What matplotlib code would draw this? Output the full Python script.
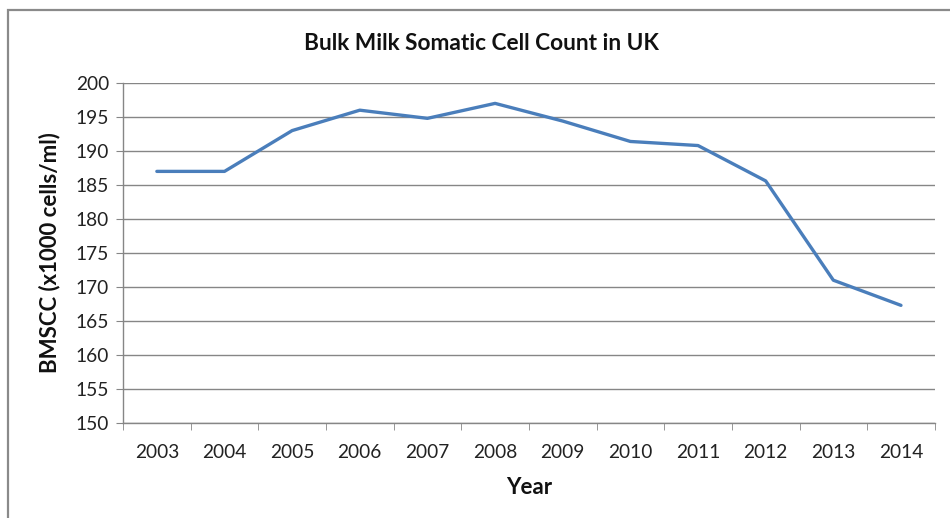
import matplotlib.pyplot as plt
import matplotlib.patches as patches
import numpy as np

years = ['2003', '2004', '2005', '2006', '2007', '2008',
         '2009', '2010', '2011', '2012', '2013', '2014']
bmscc = [187, 187, 193, 196, 194.8, 197, 194.4, 191.4, 190.8, 185.6, 171, 167.3]

plt.rcParams['font.family'] = ['Lato', 'DejaVu Sans']
grey = '#868686'

fig = plt.figure(figsize=(9.5, 5.18), dpi=100)
ax = fig.add_axes([0.1295, 0.1834, 0.8545, 0.6564])

# outer chart frame (only top and left edges fall inside the image)
fig.patches.append(patches.Rectangle((8 / 950, -0.1), 1.2, 1 - 10 / 518 + 0.1,
                                     transform=fig.transFigure, fill=False,
                                     edgecolor='#8a8a8a', linewidth=1.6))

x = np.arange(len(years))
ax.plot(x, bmscc, color='#4A7EBB', linewidth=2.4, solid_capstyle='round')

ax.set_xlim(-0.5, len(years) - 0.5)
ax.set_ylim(150, 200)
ax.set_yticks(np.arange(150, 201, 5))
ax.set_xticks(x)
ax.set_xticklabels(years)
ax.set_xticks(np.arange(-0.5, len(years), 1), minor=True)
ax.tick_params(axis='x', which='major', length=0, pad=15, labelsize=13.8, colors='#222222')
ax.tick_params(axis='x', which='minor', length=5, color=grey)
ax.tick_params(axis='y', length=5, color=grey, labelsize=13.8, labelcolor='#222222', pad=5)

ax.yaxis.grid(True, color=grey, linewidth=1)
for side in ['top', 'right']:
    ax.spines[side].set_visible(False)
for side in ['left', 'bottom']:
    ax.spines[side].set_color(grey)
    ax.spines[side].set_linewidth(1)

fig.text(481 / 950, 1 - 43 / 518, 'Bulk Milk Somatic Cell Count in UK',
         ha='center', va='center', fontsize=16.3, fontweight='bold', color='#111111')
ax.set_xlabel('Year', fontsize=16, fontweight='bold', color='#111111', labelpad=12)
ax.set_ylabel('BMSCC (x1000 cells/ml)', fontsize=16, fontweight='bold', color='#111111', labelpad=11)

fig.savefig('out.png', dpi=100)
